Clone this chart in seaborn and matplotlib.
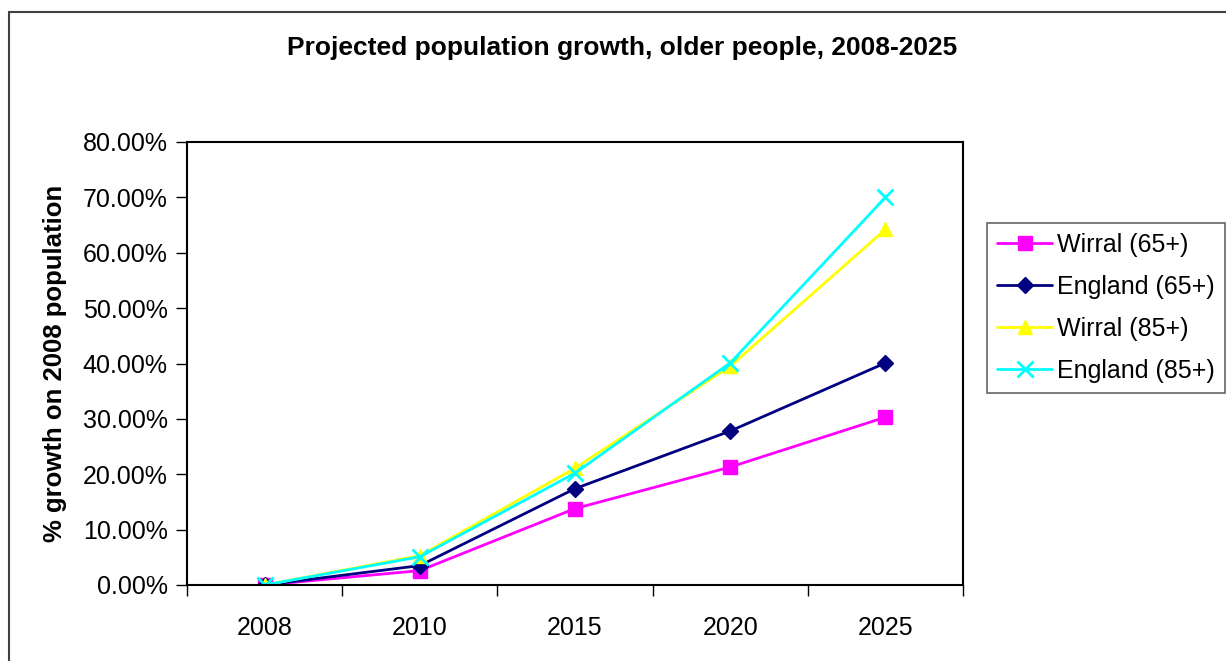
import matplotlib
matplotlib.use("Agg")
import matplotlib.pyplot as plt
from matplotlib.lines import Line2D
from matplotlib.ticker import FixedLocator, FuncFormatter
import pandas as pd
import seaborn as sns

years = ["2008", "2010", "2015", "2020", "2025"]
wirral_65 = [0.0, 2.6, 13.8, 21.3, 30.3]
england_65 = [0.0, 3.5, 17.4, 27.8, 40.1]
wirral_85 = [0.0, 5.3, 21.1, 39.5, 64.2]
england_85 = [0.0, 5.1, 20.2, 40.1, 70.0]

series_names = ["Wirral (65+)", "England (65+)", "Wirral (85+)", "England (85+)"]
series_values = [wirral_65, england_65, wirral_85, england_85]
colors = ["#FF00FF", "#000080", "#FFFF00", "#00FFFF"]
markers = ["s", "D", "^", "x"]
msizes = [10, 8, 10, 11]

rows = []
for name, vals in zip(series_names, series_values):
    for i, (yr, v) in enumerate(zip(years, vals)):
        rows.append({"pos": i, "year": yr, "growth": v, "series": name})
df = pd.DataFrame(rows)

sns.set_theme(style="white")
plt.rcParams["font.family"] = ["Liberation Sans", "DejaVu Sans"]
plt.rcParams["text.color"] = "black"
plt.rcParams["axes.labelcolor"] = "black"
plt.rcParams["xtick.color"] = "black"
plt.rcParams["ytick.color"] = "black"

W, H = 1226, 661
fig = plt.figure(figsize=(W / 100, H / 100), dpi=100)
fig.patch.set_facecolor("white")

ax = fig.add_axes([187 / W, 1 - 585 / H, (963 - 187) / W, (585 - 142) / H])

for name, c, m, ms in zip(series_names, colors, markers, msizes):
    sub = df[df["series"] == name]
    sns.lineplot(data=sub, x="pos", y="growth", ax=ax, color=c, marker=m,
                 markersize=ms, linewidth=2, markeredgecolor=c,
                 markeredgewidth=2 if m == "x" else 1, legend=False)

ax.set_xlim(-0.5, len(years) - 0.5)
ax.set_ylim(0, 80)
ax.yaxis.set_major_locator(FixedLocator(range(0, 81, 10)))
ax.yaxis.set_major_formatter(FuncFormatter(lambda v, p: f"{v:.2f}%"))
ax.set_xticks(range(len(years)))
ax.set_xticklabels(years)
ax.xaxis.set_minor_locator(FixedLocator([i - 0.5 for i in range(len(years) + 1)]))
ax.tick_params(axis="x", which="major", length=0, pad=22, labelsize=18, labelcolor="black")
ax.tick_params(axis="x", which="minor", length=8, width=1, color="black", direction="out", bottom=True)
ax.tick_params(axis="y", which="major", length=8, width=1, color="black", direction="out",
               left=True, labelsize=18, pad=6, labelcolor="black")
for s in ax.spines.values():
    s.set_visible(True)
    s.set_color("black")
    s.set_linewidth(1.5)
ax.set_xlabel("")
ax.set_ylabel("% growth on 2008 population", fontsize=18.5, fontweight="bold",
              labelpad=11, color="black")
ax.grid(False)
ax.set_facecolor("white")

fig.text(622 / W, 1 - 48 / H, "Projected population growth, older people, 2008-2025",
         ha="center", va="center", fontsize=19, fontweight="bold", color="black")

# outer chart frame (left and top edges)
fig.add_artist(Line2D([9 / W, 9 / W], [0, 1 - 12 / H], transform=fig.transFigure,
                      color="#404040", linewidth=1.5))
fig.add_artist(Line2D([9 / W, 1], [1 - 12 / H, 1 - 12 / H], transform=fig.transFigure,
                      color="#404040", linewidth=1.5))

handles = [Line2D([], [], color=c, marker=m, markersize=ms, linewidth=2,
                  markeredgecolor=c, markeredgewidth=2 if m == "x" else 1)
           for c, m, ms in zip(colors, markers, msizes)]
leg = fig.legend(handles, series_names, loc="upper left",
                 bbox_to_anchor=(987 / W, 1 - 223 / H), fontsize=18,
                 frameon=True, fancybox=False, handlelength=2.2, handletextpad=0.2,
                 labelspacing=0.72, borderpad=0.4, borderaxespad=0)
leg.get_frame().set_edgecolor("#404040")
leg.get_frame().set_linewidth(1.2)
for t in leg.get_texts():
    t.set_color("black")

fig.savefig("out.png", dpi=100, facecolor="white")
